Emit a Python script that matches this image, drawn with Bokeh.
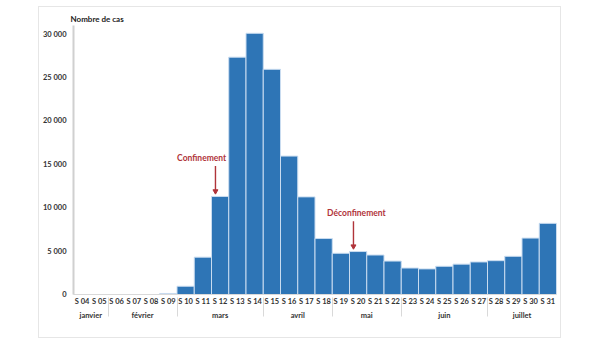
from bokeh.plotting import figure
from bokeh.models import FactorRange, Range1d, FixedTicker, ColumnDataSource
from bokeh.embed import file_html
from bokeh.resources import INLINE
from bokeh.core.properties import value

# ---- data ----
months = ["janvier", "février", "mars", "avril", "mai", "juin", "juillet"]
month_week_count = [2, 4, 5, 4, 4, 5, 4]
weeks = ["S 04", "S 05", "S 06", "S 07", "S 08", "S 09", "S 10", "S 11", "S 12", "S 13",
         "S 14", "S 15", "S 16", "S 17", "S 18", "S 19", "S 20", "S 21", "S 22", "S 23",
         "S 24", "S 25", "S 26", "S 27", "S 28", "S 29", "S 30", "S 31"]
cases = [0, 0, 0, 0, 0, 120, 950, 4300, 11300, 27350,
         30100, 25950, 15950, 11250, 6450, 4750, 4950, 4550, 3850, 3050,
         2950, 3250, 3500, 3750, 3900, 4400, 6500, 8200]
y_ticks = [0, 5000, 10000, 15000, 20000, 25000, 30000]
events = ["Confinement", "Déconfinement"]
event_weeks = ["S 12", "S 20"]

# ---- build factors ----
week_month = []
for m, n in zip(months, month_week_count):
    week_month += [m] * n
factors = list(zip(week_month, weeks))

RED = "#b0343a"
BLUE = "#2e75b6"
FONT = "Lato"

p = figure(width=523, height=332, output_backend="svg", toolbar_location=None,
           x_range=FactorRange(*factors, factor_padding=0, group_padding=0,
                               subgroup_padding=0, range_padding=0),
           y_range=Range1d(0, 31000),
           min_border_left=32, min_border_right=6, min_border_top=18, min_border_bottom=45)
p.styles = {"margin-left": "38px", "margin-top": "6px", "border": "1px solid #e6e6e6"}

src = ColumnDataSource(dict(x=factors, top=cases))
p.vbar(x="x", top="top", width=1.0, source=src, fill_color=BLUE,
       line_color="#c9dcf0", line_width=1)

# annotations
idx = {w: i for i, w in enumerate(weeks)}
arrow_x, y_bot, y_top, lab_x, lab_y = [], [], [], [], []
lab_off = {"S 12": -1.07, "S 20": -0.1}
for w in event_weeks:
    f = factors[idx[w]]
    v = cases[idx[w]]
    arrow_x.append((f[0], f[1], -0.27))
    lab_x.append((f[0], f[1], lab_off[w]))
    y_bot.append(v + 600)
    y_top.append(v + 3500)
    lab_y.append(v + 4400)

asrc = ColumnDataSource(dict(x=arrow_x, y0=y_top, y1=y_bot, lx=lab_x, ly=lab_y, t=events))
p.segment(x0="x", y0="y0", x1="x", y1="y1", source=asrc, line_color=RED, line_width=1.4)
p.scatter(x="x", y="y1", source=asrc, marker="inverted_triangle", size=5,
          fill_color=RED, line_color=RED)
p.text(x="lx", y="ly", text="t", source=asrc, text_color=RED, text_font=value(FONT),
       text_font_style="bold", text_font_size="8.5px", text_align="center",
       text_baseline="middle")

# title as axis label
p.title.text = "Nombre de cas"
p.title.text_font = FONT
p.title.text_font_size = "8px"
p.title.text_font_style = "bold"
p.title.text_color = "#222222"
p.title.align = "left"
p.title.offset = -3
p.title.standoff = 3

# y axis
p.yaxis.ticker = FixedTicker(ticks=y_ticks)
p.yaxis.major_label_overrides = {t: f"{t:,}".replace(",", " ") for t in y_ticks}
p.yaxis.major_label_text_font = FONT
p.yaxis.major_label_text_font_size = "7.5px"
p.yaxis.major_label_text_font_style = "bold"
p.yaxis.major_label_text_color = "#333333"
p.yaxis.major_tick_out = 0
p.yaxis.major_tick_in = 0
p.yaxis.minor_tick_out = 0
p.yaxis.minor_tick_in = 0
p.yaxis.axis_line_color = "#d0d0d0"
p.yaxis.axis_line_width = 2
p.yaxis.major_label_standoff = 7

# x axis
p.xaxis.major_tick_out = 0
p.xaxis.major_tick_in = 0
p.xaxis.axis_line_color = "#d9d9d9"
p.xaxis.axis_line_width = 1
p.xaxis.major_label_text_font = FONT
p.xaxis.major_label_text_font_size = "7.5px"
p.xaxis.major_label_text_font_style = "bold"
p.xaxis.major_label_text_color = "#333333"
p.xaxis.major_label_standoff = 2
p.xaxis.group_text_font = FONT
p.xaxis.group_text_font_size = "7.5px"
p.xaxis.group_text_font_style = "bold"
p.xaxis.group_text_color = "#333333"
p.xaxis.separator_line_color = "#d9d9d9"
p.xaxis.separator_line_width = 1

p.xgrid.grid_line_color = None
p.ygrid.grid_line_color = None
p.outline_line_color = None

open("out.html", "w").write(file_html(p, INLINE))
